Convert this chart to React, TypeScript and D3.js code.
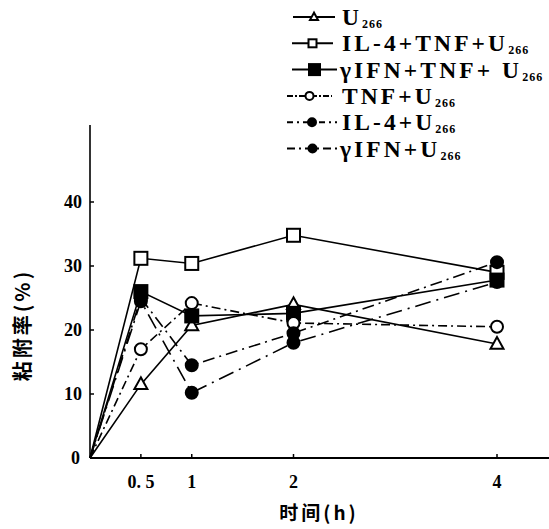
import React from "react";
import * as d3 from "d3";

// Sampling times (h) and adhesion rates (%) for each treatment group
const times = [0, 0.5, 1, 2, 4];
const xTicks = [0.5, 1, 2, 4];
const xTickLabels = ["0. 5", "1", "2", "4"];
const yTicks = [0, 10, 20, 30, 40];

const seriesNames = ["U", "IL-4+TNF+U", "γIFN+TNF+ U", "TNF+U", "IL-4+U", "γIFN+U"];
const seriesSub = "266";

const u266 = [0, 11.5, 20.7, 24, 17.8];
const il4TnfU266 = [0, 31.2, 30.4, 34.8, 29];
const ifnTnfU266 = [0, 26, 22.2, 22.6, 27.8];
const tnfU266 = [0, 17, 24.2, 21.1, 20.5];
const il4U266 = [0, 25, 14.5, 19.5, 30.6];
const ifnU266 = [0, 24.5, 10.2, 18, 27.5];

const seriesValues = [u266, il4TnfU266, ifnTnfU266, tnfU266, il4U266, ifnU266];

type Marker = "triangle" | "square" | "circle";
const styles: { marker: Marker; filled: boolean; dash: string; legendDash: string; legendX0: number; legendW: number }[] = [
  { marker: "triangle", filled: false, dash: "", legendDash: "", legendX0: 293, legendW: 42 },
  { marker: "square", filled: false, dash: "", legendDash: "", legendX0: 292, legendW: 41 },
  { marker: "square", filled: true, dash: "", legendDash: "", legendX0: 292, legendW: 45 },
  { marker: "circle", filled: false, dash: "9,4,2,4", legendDash: "6,2,2,2", legendX0: 287, legendW: 45 },
  { marker: "circle", filled: true, dash: "12,5,2,5", legendDash: "6,4,2,4", legendX0: 287, legendW: 50 },
  { marker: "circle", filled: true, dash: "16,6,2,6", legendDash: "8,4,2,4", legendX0: 287, legendW: 51 },
];

const W = 549;
const H = 529;
const x = d3.scaleLinear().domain([0, 4]).range([90, 497]);
const y = d3.scaleLinear().domain([0, 40]).range([458, 202]);
const yTop = 125;
const xRight = 549;

const serif = "'Liberation Serif', 'DejaVu Serif', serif";
const cjk = "'Noto Sans CJK SC', sans-serif";

function MarkerShape({ type, filled, cx, cy, size }: { type: Marker; filled: boolean; cx: number; cy: number; size: number }) {
  const fill = filled ? "#000" : "#fff";
  if (type === "circle") {
    return <circle cx={cx} cy={cy} r={size / 2} fill={fill} stroke="#000" strokeWidth={2} />;
  }
  if (type === "square") {
    return <rect x={cx - size / 2} y={cy - size / 2} width={size} height={size} fill={fill} stroke="#000" strokeWidth={2} />;
  }
  const h = size * 0.9;
  const pts = [
    [cx, cy - h * 0.6],
    [cx - size / 2, cy + h * 0.4],
    [cx + size / 2, cy + h * 0.4],
  ];
  return <polygon points={pts.map((p) => p.join(",")).join(" ")} fill={fill} stroke="#000" strokeWidth={2} />;
}

export default function App() {
  const line = d3
    .line<number>()
    .x((_, i) => x(times[i]))
    .y((v) => y(v));

  const legendY0 = 17;
  const legendStep = 26.3;

  return (
    <svg width={W} height={H} style={{ position: "fixed", left: 0, top: 0, background: "#fff" }}>
      <rect width={W} height={H} fill="#fff" />

      {/* axes */}
      <line x1={x(0)} y1={y(0)} x2={xRight} y2={y(0)} stroke="#000" strokeWidth={2.2} />
      <line x1={x(0)} y1={y(0)} x2={x(0)} y2={yTop} stroke="#000" strokeWidth={1.6} />

      {xTicks.map((t, i) => (
        <g key={"xt" + t}>
          <line x1={x(t)} x2={x(t)} y1={y(0)} y2={y(0) - 4} stroke="#000" strokeWidth={1.5} />
          <text x={x(t)} y={y(0) + 30} textAnchor="middle" fontFamily={serif} fontWeight="bold" fontSize={18}>
            {xTickLabels[i]}
          </text>
        </g>
      ))}
      {yTicks.map((t) => (
        <g key={"yt" + t}>
          {t > 0 && <line x1={x(0)} x2={x(0) + 4} y1={y(t)} y2={y(t)} stroke="#000" strokeWidth={1.5} />}
          <text x={t === 0 ? 80 : 82} y={y(t) + 6} textAnchor="end" fontFamily={serif} fontWeight="bold" fontSize={18}>
            {t}
          </text>
        </g>
      ))}

      <text x={319} y={520} textAnchor="middle" fontFamily={cjk} fontWeight="bold" fontSize={19} letterSpacing={3}>
        时间(h)
      </text>
      <text
        transform={`translate(30, 325) rotate(-90)`}
        textAnchor="middle"
        fontFamily={cjk}
        fontWeight="bold"
        fontSize={20}
        letterSpacing={3}
      >
        粘附率(%)
      </text>

      {/* series lines */}
      {seriesValues.map((vals, i) => (
        <path
          key={"l" + i}
          d={line(vals) || ""}
          fill="none"
          stroke="#000"
          strokeWidth={1.6}
          strokeDasharray={styles[i].dash || undefined}
        />
      ))}

      {/* series markers (skip the shared origin) */}
      {seriesValues.map((vals, i) =>
        vals.map((v, j) =>
          j === 0 ? null : (
            <MarkerShape
              key={`m${i}-${j}`}
              type={styles[i].marker}
              filled={styles[i].filled}
              cx={x(times[j])}
              cy={y(v)}
              size={styles[i].marker === "circle" ? 12 : 13}
            />
          )
        )
      )}

      {/* legend */}
      {seriesNames.map((name, i) => {
        const cy = legendY0 + i * legendStep;
        const s = styles[i];
        return (
          <g key={"lg" + i}>
            <line
              x1={s.legendX0}
              x2={s.legendX0 + s.legendW}
              y1={cy}
              y2={cy}
              stroke="#000"
              strokeWidth={2}
              strokeDasharray={s.legendDash || undefined}
            />
            <MarkerShape
              type={s.marker}
              filled={s.filled}
              cx={s.legendX0 + s.legendW / 2}
              cy={cy}
              size={i === 2 ? 11 : 8}
            />
            <text x={i === 2 || i === 5 ? 340 : 342} y={cy + 8} fontFamily={serif} fontWeight="bold" fontSize={23.5} letterSpacing={3.1}>
              {name}
              <tspan fontSize={12} dy={3} letterSpacing={1}>
                {seriesSub}
              </tspan>
            </text>
          </g>
        );
      })}
    </svg>
  );
}
